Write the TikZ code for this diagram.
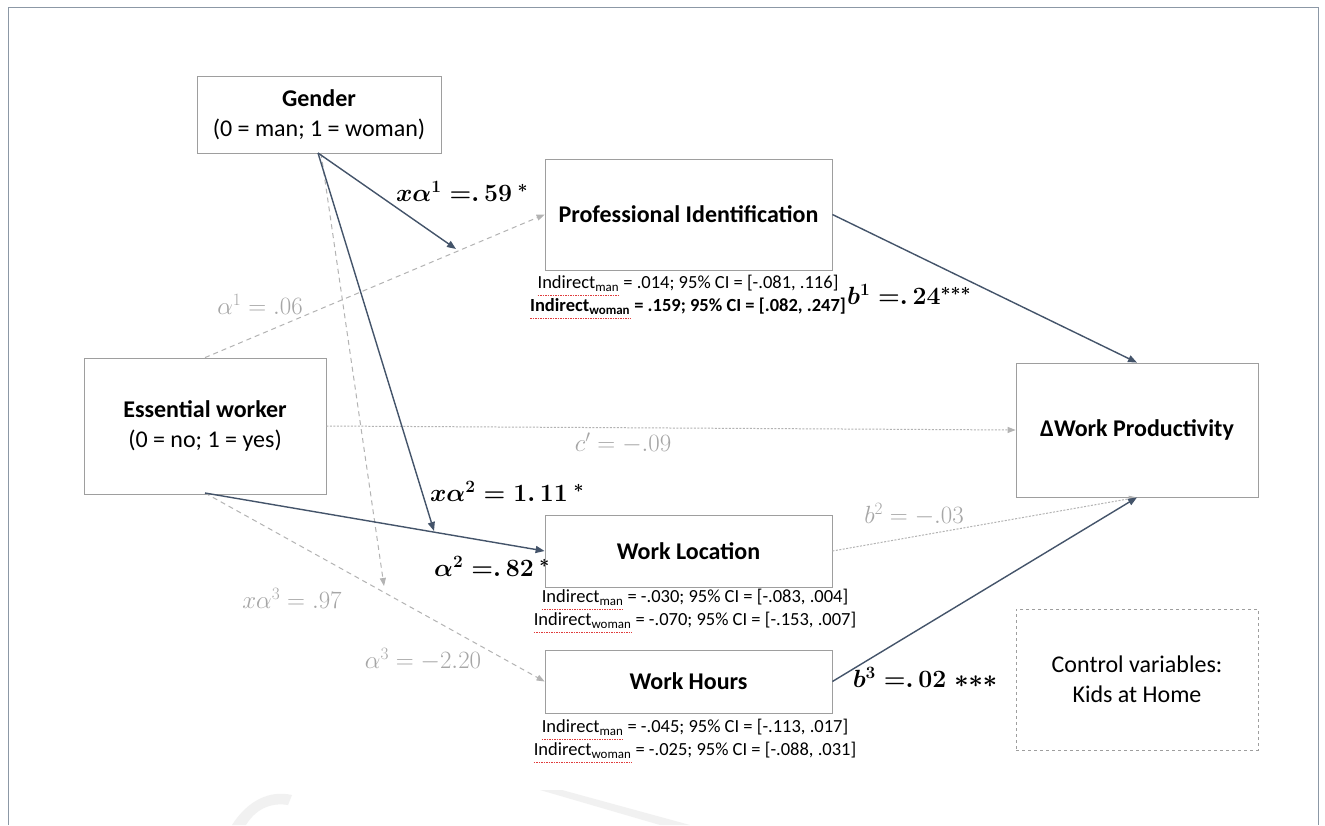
\documentclass[tikz,border=0pt]{standalone}
\usepackage{fontspec}
\setmainfont{Carlito}
\usepackage{amsmath}
\usetikzlibrary{arrows.meta}
\definecolor{slate}{HTML}{44546A}
\definecolor{lgray}{HTML}{A6A6A6}
\definecolor{boxgray}{HTML}{9E9E9E}
\definecolor{framecol}{HTML}{8C98A6}
\definecolor{wm}{HTML}{F1F1F1}
\definecolor{spellred}{HTML}{E03C3C}
\newsavebox\spellbox
\newcommand\spellul[1]{\leavevmode\sbox\spellbox{#1}\rlap{\tikz[overlay,baseline=0pt]\draw[spellred,line width=1pt,dash pattern=on 1.5pt off 1pt] (0pt,-6.5pt) -- (\the\wd\spellbox,-6.5pt);}\usebox\spellbox}
\newcommand\indm[1]{\spellul{Indirect\textsubscript{#1}}}
\begin{document}
\begin{tikzpicture}[x=1pt,y=-1pt,
  mbox/.style={draw=boxgray, line width=0.8pt, fill=white, align=center, inner sep=0pt,
    font=\fontsize{24}{30}\selectfont},
  ctrlbox/.style={mbox, dashed, draw=boxgray},
  indtxt/.style={align=center, inner sep=0pt, font=\fontsize{18.5}{23}\selectfont},
  solidarr/.style={draw=slate, line width=1.4pt, -{Triangle[length=9pt,width=7pt]}},
  dasharr/.style={draw=lgray!85, line width=1pt, dash pattern=on 5pt off 4pt, -{Triangle[length=8pt,width=6pt]}},
  dotarr/.style={draw=lgray!85, line width=1pt, dash pattern=on 2pt off 1.5pt, -{Triangle[length=8pt,width=6pt]}},
  blab/.style={inner sep=0pt, font=\fontsize{23}{28}\selectfont\boldmath, text=black},
  glab/.style={inner sep=0pt, font=\fontsize{25}{28}\selectfont, text=lgray}]
\useasboundingbox (0,0) rectangle (1325,825);
\fill[white] (0,0) rectangle (1325,825);
% faint watermark
\fill[wm] (232,825) .. controls (248,800) and (270,790) .. (292,795) -- (288,805) .. controls (270,802) and (255,810) .. (246,825) -- cycle;
\fill[wm] (540,790) -- (562,790) -- (690,825) -- (660,825) -- cycle;
% frame
\draw[framecol, line width=1pt] (8,825) -- (8,7) -- (1318,7) -- (1318,825);
% boxes
\node[mbox, minimum width=244pt, minimum height=77pt] (gen) at (319,114.5) {\textbf{Gender}\\(0 = man; 1 = woman)};
\node[mbox, minimum width=287pt, minimum height=111pt] (prof) at (688.5,214.5) {\textbf{Professional Identification}};
\node[mbox, minimum width=242pt, minimum height=136pt] (ess) at (205,426) {\textbf{Essential worker}\\(0 = no; 1 = yes)};
\node[mbox, minimum width=242pt, minimum height=134pt] (dwp) at (1137,430) {\textbf{ΔWork Productivity}};
\node[mbox, minimum width=287pt, minimum height=72pt] (wl) at (688.5,551) {\textbf{Work Location}};
\node[mbox, minimum width=287pt, minimum height=63pt] (wh) at (688.5,681.5) {\textbf{Work Hours}};
\node[ctrlbox, minimum width=242pt, minimum height=141pt] (ctrl) at (1137,679.5) {Control variables:\\Kids at Home};
% indirect effects
\node[indtxt] (indp) at (688,295) {\indm{man} = .014; 95\% CI = [-.081, .116]\\\textbf{\indm{woman} = .159; 95\% CI = [.082, .247]}};
\node[indtxt] (indl) at (695,609) {\indm{man} = -.030; 95\% CI = [-.083, .004]\\\indm{woman} = -.070; 95\% CI = [-.153, .007]};
\node[indtxt] (indh) at (695,739) {\indm{man} = -.045; 95\% CI = [-.113, .017]\\\indm{woman} = -.025; 95\% CI = [-.088, .031]};
% moderation target points
\coordinate (m1) at (456,249);
\coordinate (m2) at (434,531);
\coordinate (m3) at (384,586);
\coordinate (gs) at (318,153);
\coordinate (gd) at (321,153);
\coordinate (eb) at (205,493);
% gray paths
\draw[dasharr] (ess.north) -- (prof.west);
\draw[dotarr] (ess.east) -- (dwp.west);
\draw[dasharr] (eb) -- (wh.west);
\draw[dasharr] (gd) -- (m3);
\draw[dotarr] (wl.east) -- (dwp.south);
% solid paths
\draw[solidarr] (gs) -- (m1);
\draw[solidarr] (gs) -- (m2);
\draw[solidarr] (eb) -- (wl.west);
\draw[solidarr] (prof.east) -- (dwp.north);
\draw[solidarr] (wh.east) -- (dwp.south);
% labels
\node[blab] (lxa1) at (462,191) {$x\alpha^{1}\;{=}.\,59^{\;*}$};
\node[glab] (la1) at (260,304) {$\alpha^{1} = .06$};
\node[glab] (lc) at (623,443) {$c' = -.09$};
\node[blab] (lxa2) at (507,491) {$x\alpha^{2} = 1.\,11^{\;*}$};
\node[blab] (la2) at (492,566) {$\alpha^{2}\;{=}.\,82^{\;*}$};
\node[glab] (lxa3) at (292,598) {$x\alpha^{3} = .97$};
\node[glab] (la3) at (423,659) {$\alpha^{3} = -2.20$};
\node[blab] (lb1) at (909,294) {$b^{1}\;{=}.\,24^{***}$};
\node[glab] (lb2) at (914,514) {$b^{2} = -.03$};
\node[blab] (lb3) at (925,677) {$b^{3}\;{=}.\,02\;\mathord{\ast}\mathord{\ast}\mathord{\ast}$};
\end{tikzpicture}
\end{document}
